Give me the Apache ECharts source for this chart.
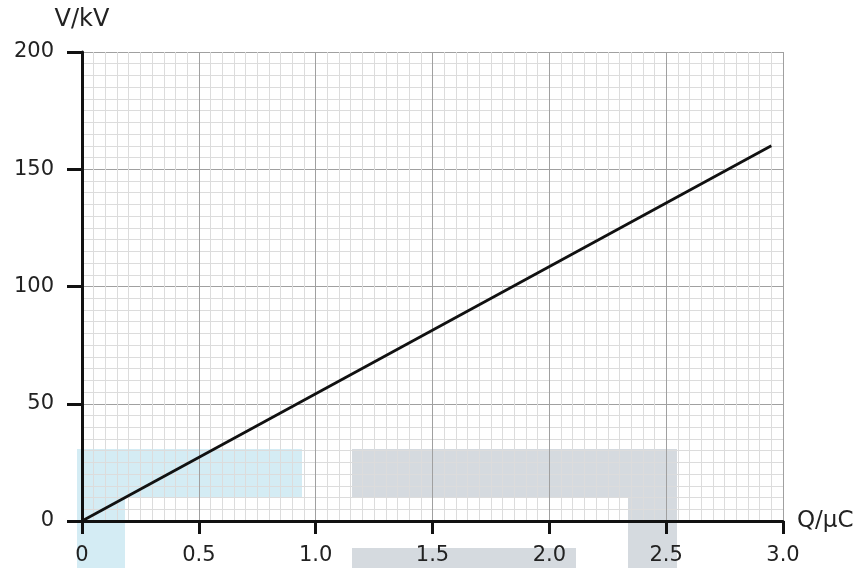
<!DOCTYPE html>
<html>
<head>
<meta charset="utf-8">
<style>
  html, body { margin: 0; padding: 0; background: #fff; }
  #chart { width: 866px; height: 568px; }
</style>
<script src="https://cdn.jsdelivr.net/npm/echarts@6/dist/echarts.min.js"></script>
</head>
<body>
<div id="chart"></div>
<script>
// Charge on the electrode (µC) and the resulting potential (kV)
const charge = [0, 2.95];
const voltage = [0, 160];

const xTicks = [0, 0.5, 1.0, 1.5, 2.0, 2.5, 3.0];
const yTicks = [0, 50, 100, 150, 200];

const FONT = '"DejaVu Sans", "Noto Sans", sans-serif';
const INK = '#222';

const chart = echarts.init(document.getElementById('chart'), null, { renderer: 'canvas' });

const points = charge.map((q, i) => [q, voltage[i]]);

chart.setOption({
  animation: false,
  grid: { left: 82, right: 83, top: 52, bottom: 47, containLabel: false },
  xAxis: {
    type: 'value',
    z: 3,
    min: xTicks[0],
    max: xTicks[xTicks.length - 1],
    interval: 0.5,
    name: 'Q/μC',
    nameLocation: 'end',
    nameGap: 14,
    nameTextStyle: { fontFamily: FONT, fontSize: 23, color: INK, verticalAlign: 'middle' },
    axisLine: { show: true, onZero: false, lineStyle: { color: '#111', width: 3 } },
    axisTick: { show: true, length: 13, lineStyle: { color: '#111', width: 3 } },
    axisLabel: {
      margin: 24, fontFamily: FONT, fontSize: 21, color: INK,
      formatter: v => (v === 0 ? '0' : v.toFixed(1))
    },
    splitLine: { show: true, lineStyle: { color: '#a0a0a0', width: 1 } },
    minorTick: { show: false, splitNumber: 10 },
    minorSplitLine: { show: true, lineStyle: { color: '#dcdcdc', width: 1 } }
  },
  yAxis: {
    type: 'value',
    z: 3,
    min: yTicks[0],
    max: yTicks[yTicks.length - 1],
    interval: 50,
    name: 'V/kV',
    nameLocation: 'end',
    nameGap: 20,
    nameTextStyle: { fontFamily: FONT, fontSize: 24, color: INK, align: 'center' },
    axisLine: { show: true, onZero: false, lineStyle: { color: '#111', width: 3 } },
    axisTick: { show: true, length: 15, lineStyle: { color: '#111', width: 3 } },
    axisLabel: { margin: 28, fontFamily: FONT, fontSize: 21, color: INK },
    splitLine: { show: true, lineStyle: { color: '#a0a0a0', width: 1 } },
    minorTick: { show: false, splitNumber: 10 },
    minorSplitLine: { show: true, lineStyle: { color: '#dcdcdc', width: 1 } }
  },
  series: [{
    type: 'line',
    data: points,
    symbol: 'none',
    lineStyle: { color: '#111', width: 2.8 },
    z: 5
  }],
  graphic: [
    // translucent blue and grey cover panels along the bottom
    { type: 'rect', z: 1, shape: { x: 77, y: 449, width: 225, height: 49 }, style: { fill: 'rgba(160,212,230,0.45)' } },
    { type: 'rect', z: 1, shape: { x: 77, y: 498, width: 48, height: 70 }, style: { fill: 'rgba(160,212,230,0.45)' } },
    { type: 'rect', z: 1, shape: { x: 352, y: 449, width: 325, height: 49 }, style: { fill: 'rgba(150,162,175,0.4)' } },
    { type: 'rect', z: 1, shape: { x: 628, y: 498, width: 49, height: 70 }, style: { fill: 'rgba(150,162,175,0.4)' } },
    { type: 'rect', z: 1, shape: { x: 352, y: 548, width: 224, height: 20 }, style: { fill: 'rgba(150,162,175,0.4)' } }
  ]
});
</script>
</body>
</html>
